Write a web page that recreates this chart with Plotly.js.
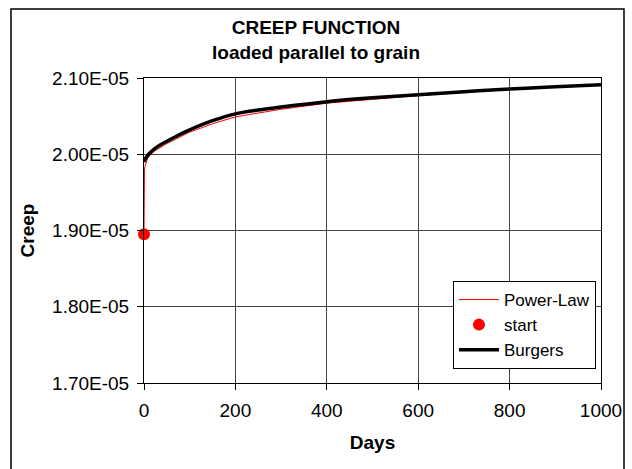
<!DOCTYPE html>
<html>
<head>
<meta charset="utf-8">
<script src="https://cdn.plot.ly/plotly-3.0.1.min.js"></script>
<style>
html,body{margin:0;padding:0;background:#fff;}
#chart{width:632px;height:469px;}
</style>
</head>
<body>
<div id="chart"></div>
<script>
// Power-Law fit (days, creep)
const powerDays  = [0, 0.2, 0.5, 1, 2, 4, 8, 15, 25, 50, 100, 150, 200, 300, 400, 500, 600, 700, 800, 900, 1000];
const powerCreep = [1.895e-5, 1.950e-5, 1.970e-5, 1.978e-5, 1.984e-5, 1.989e-5, 1.995e-5, 2.000e-5, 2.005e-5, 2.014e-5, 2.029e-5, 2.040e-5, 2.049e-5, 2.059e-5, 2.067e-5, 2.072e-5, 2.077e-5, 2.081e-5, 2.085e-5, 2.088e-5, 2.091e-5];
// start point
const startDays  = [0];
const startCreep = [1.895e-5];
// Burgers model
const burgDays  = [0, 2, 5, 10, 15, 25, 35, 50, 75, 100, 150, 200, 250, 300, 400, 500, 600, 700, 800, 900, 1000];
const burgCreep = [1.990e-5, 1.993e-5, 1.996e-5, 2.000e-5, 2.003e-5, 2.008e-5, 2.012e-5, 2.017e-5, 2.025e-5, 2.032e-5, 2.044e-5, 2.053e-5, 2.058e-5, 2.062e-5, 2.069e-5, 2.074e-5, 2.078e-5, 2.082e-5, 2.0855e-5, 2.0885e-5, 2.091e-5];
// axis ticks
const yTickVals  = [1.7e-5, 1.8e-5, 1.9e-5, 2.0e-5, 2.1e-5];
const yTickText  = ['1.70E-05', '1.80E-05', '1.90E-05', '2.00E-05', '2.10E-05'];
const xTickVals  = [0, 200, 400, 600, 800, 1000];

const FONT = 'Liberation Sans, Arial, sans-serif';

const traces = [
  {x: powerDays, y: powerCreep, name: 'Power-Law', type: 'scatter', mode: 'lines',
   line: {color: '#ff0000', width: 1}, cliponaxis: false},
  {x: startDays, y: startCreep, name: 'start', type: 'scatter', mode: 'markers',
   marker: {color: '#ff0000', size: 12}, cliponaxis: false},
  {x: burgDays, y: burgCreep, name: 'Burgers', type: 'scatter', mode: 'lines',
   line: {color: '#000000', width: 3.5, shape: 'spline', smoothing: 1}, cliponaxis: false}
];

const layout = {
  width: 632, height: 469,
  margin: {l: 144, r: 31, t: 78, b: 86},
  paper_bgcolor: '#fff', plot_bgcolor: '#fff',
  font: {family: FONT, size: 19, color: '#000'},
  title: {
    text: '<b>CREEP FUNCTION</b><br><b>loaded parallel to grain</b>',
    font: {family: FONT, size: 19, color: '#000'},
    x: 0.5, xref: 'container', y: 0.927, yref: 'container', yanchor: 'top'
  },
  xaxis: {
    range: [0, 1000], tickvals: xTickVals, ticks: 'outside', ticklen: 6, tickcolor: '#000',
    ticklabelstandoff: 4,
    showgrid: true, gridcolor: '#444', gridwidth: 1,
    showline: true, linecolor: '#000', linewidth: 1, mirror: true, zeroline: false,
    tickfont: {family: FONT, size: 19, color: '#000'},
    title: {text: '<b>Days</b>', font: {family: FONT, size: 19, color: '#000'}, standoff: 15},
    automargin: false
  },
  yaxis: {
    range: [1.7e-5, 2.1e-5], tickvals: yTickVals, ticktext: yTickText, ticks: 'outside', ticklen: 6, tickcolor: '#000',
    ticklabelstandoff: 4,
    showgrid: true, gridcolor: '#444', gridwidth: 1,
    showline: true, linecolor: '#000', linewidth: 1, mirror: true, zeroline: false,
    tickfont: {family: FONT, size: 19, color: '#000'},
    title: {text: '<b>Creep</b>', font: {family: FONT, size: 19, color: '#000'}, standoff: 12},
    automargin: false
  },
  showlegend: true,
  legend: {
    x: 0.989, xanchor: 'right', y: 0.046, yanchor: 'bottom',
    bgcolor: '#fff', bordercolor: '#000', borderwidth: 1,
    font: {family: FONT, size: 17, color: '#000'},
    tracegroupgap: 0, itemwidth: 40
  },
  shapes: [
    {type: 'rect', xref: 'paper', yref: 'paper',
     x0: (11 - 144) / 457, x1: (624 - 144) / 457,
     y0: (383 - 480) / 305, y1: (383 - 9) / 305,
     line: {color: '#000', width: 1.5}, fillcolor: 'rgba(0,0,0,0)', layer: 'below'}
  ]
};

Plotly.newPlot('chart', traces, layout, {displayModeBar: false, staticPlot: true});
</script>
</body>
</html>
